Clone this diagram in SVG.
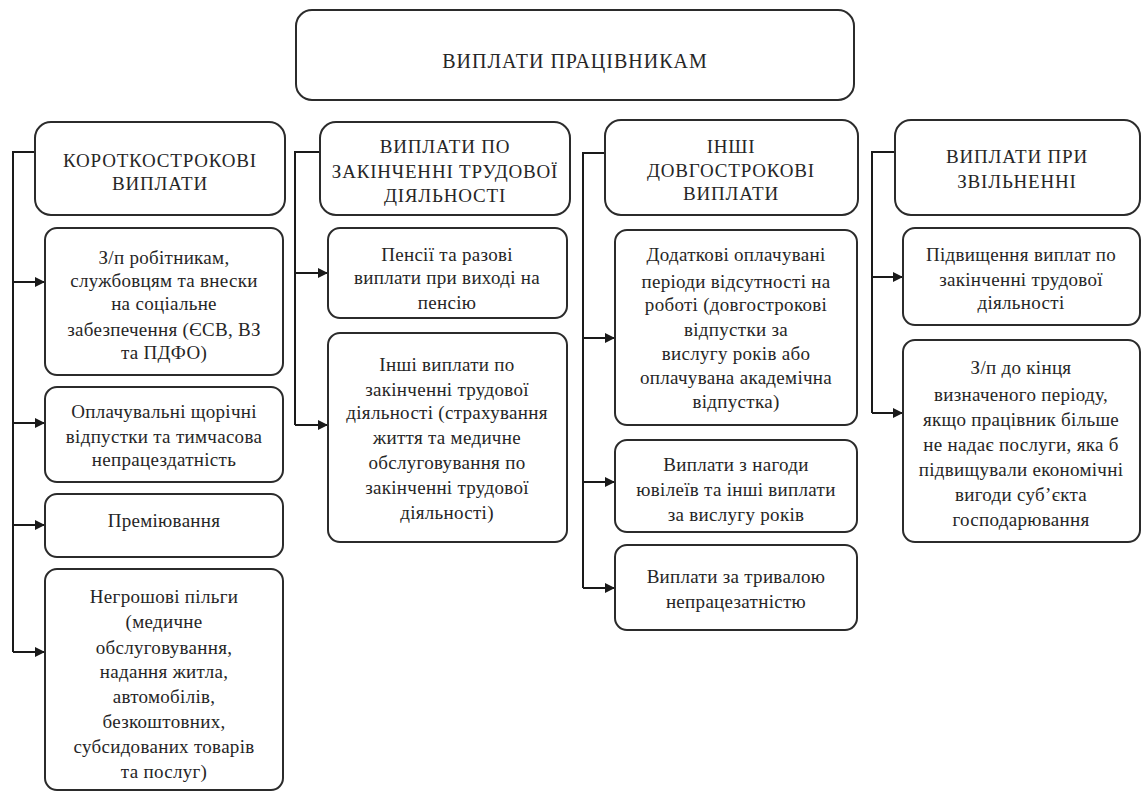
<svg xmlns="http://www.w3.org/2000/svg" width="1142" height="792" viewBox="0 0 1142 792">
<style>
  .box { fill: #ffffff; stroke: #2b2b2b; stroke-width: 2; }
  .ln { fill: none; stroke: #1a1a1a; stroke-width: 2; }
  .ar { fill: none; stroke: #1a1a1a; stroke-width: 2; marker-end: url(#arrow); }
  .h text { font-size: 19px; letter-spacing: 0.8px; }
  .c text { font-size: 19px; letter-spacing: 0.3px; }
</style>
<defs>
  <marker id="arrow" viewBox="0 0 10 10" refX="10" refY="5" markerWidth="5" markerHeight="5" orient="auto" markerUnits="strokeWidth">
    <path d="M0,0 L10,5 L0,10 z" fill="#1a1a1a"/>
  </marker>
</defs>
<rect width="1142" height="792" fill="#ffffff"/>

<g id="connectors">
  <path class="ln" d="M35,152 H13 V652"/>
  <path class="ar" d="M13,282 H45"/>
  <path class="ar" d="M13,423 H45"/>
  <path class="ar" d="M13,525 H45"/>
  <path class="ar" d="M13,652 H45"/>

  <path class="ln" d="M320,152 H295 V425"/>
  <path class="ar" d="M295,273 H328"/>
  <path class="ar" d="M295,425 H328"/>

  <path class="ln" d="M605,153 H583 V588"/>
  <path class="ar" d="M583,338 H615"/>
  <path class="ar" d="M583,482 H615"/>
  <path class="ar" d="M583,588 H615"/>

  <path class="ln" d="M895,152 H872 V413"/>
  <path class="ar" d="M872,277 H903"/>
  <path class="ar" d="M872,413 H903"/>
</g>

<g font-family="'Liberation Serif', 'Liberation Sans', sans-serif" font-size="19" fill="#262626" text-anchor="middle">
<g id="title">
  <rect class="box" x="296" y="10" width="558" height="90" rx="16"/>
  <text x="575" y="68" font-size="20" letter-spacing="1">ВИПЛАТИ ПРАЦІВНИКАМ</text>
</g>

<g id="h1" class="h">
  <rect class="box" x="35" y="122" width="250" height="93" rx="16"/>
  <text x="160" y="167">КОРОТКОСТРОКОВІ</text>
  <text x="160" y="190">ВИПЛАТИ</text>
</g>
<g id="c1n1" class="c">
  <rect class="box" x="45" y="228" width="238" height="147" rx="12"/>
  <text x="164" y="264">З/п робітникам,</text>
  <text x="164" y="287">службовцям та внески</text>
  <text x="164" y="310">на соціальне</text>
  <text x="164" y="336">забезпечення (ЄСВ, ВЗ</text>
  <text x="164" y="359">та ПДФО)</text>
</g>
<g id="c1n2" class="c">
  <rect class="box" x="45" y="387" width="238" height="95" rx="12"/>
  <text x="164" y="418">Оплачувальні щорічні</text>
  <text x="164" y="443">відпустки та тимчасова</text>
  <text x="164" y="466">непрацездатність</text>
</g>
<g id="c1n3" class="c">
  <rect class="box" x="45" y="494" width="238" height="63" rx="12"/>
  <text x="164" y="527">Преміювання</text>
</g>
<g id="c1n4" class="c">
  <rect class="box" x="45" y="569" width="238" height="221" rx="12"/>
  <text x="164" y="603">Негрошові пільги</text>
  <text x="164" y="628">(медичне</text>
  <text x="164" y="654">обслуговування,</text>
  <text x="164" y="678">надання житла,</text>
  <text x="164" y="703">автомобілів,</text>
  <text x="164" y="728">безкоштовних,</text>
  <text x="164" y="753">субсидованих товарів</text>
  <text x="164" y="778">та послуг)</text>
</g>

<g id="h2" class="h">
  <rect class="box" x="320" y="122" width="250" height="93" rx="16"/>
  <text x="445" y="153">ВИПЛАТИ ПО</text>
  <text x="445" y="178">ЗАКІНЧЕННІ ТРУДОВОЇ</text>
  <text x="445" y="202">ДІЯЛЬНОСТІ</text>
</g>
<g id="c2n1" class="c">
  <rect class="box" x="328" y="228" width="239" height="90" rx="12"/>
  <text x="447" y="261">Пенсії та разові</text>
  <text x="447" y="284">виплати при виході на</text>
  <text x="447" y="309">пенсію</text>
</g>
<g id="c2n2" class="c">
  <rect class="box" x="328" y="333" width="239" height="209" rx="12"/>
  <text x="447" y="371">Інші виплати по</text>
  <text x="447" y="396">закінченні трудової</text>
  <text x="447" y="419">діяльності (страхування</text>
  <text x="447" y="444">життя та медичне</text>
  <text x="447" y="469">обслуговування по</text>
  <text x="447" y="494">закінченні трудової</text>
  <text x="447" y="519">діяльності)</text>
</g>

<g id="h3" class="h">
  <rect class="box" x="605" y="120" width="253" height="95" rx="16"/>
  <text x="731" y="153">ІНШІ</text>
  <text x="731" y="177">ДОВГОСТРОКОВІ</text>
  <text x="731" y="200">ВИПЛАТИ</text>
</g>
<g id="c3n1" class="c">
  <rect class="box" x="615" y="230" width="242" height="195" rx="12"/>
  <text x="736" y="261">Додаткові оплачувані</text>
  <text x="736" y="288">періоди відсутності на</text>
  <text x="736" y="311">роботі (довгострокові</text>
  <text x="736" y="336">відпустки за</text>
  <text x="736" y="360">вислугу років або</text>
  <text x="736" y="384">оплачувана академічна</text>
  <text x="736" y="408">відпустка)</text>
</g>
<g id="c3n2" class="c">
  <rect class="box" x="615" y="440" width="242" height="92" rx="12"/>
  <text x="736" y="471">Виплати з нагоди</text>
  <text x="736" y="496">ювілеїв та інші виплати</text>
  <text x="736" y="521">за вислугу років</text>
</g>
<g id="c3n3" class="c">
  <rect class="box" x="615" y="545" width="242" height="85" rx="12"/>
  <text x="736" y="583">Виплати за тривалою</text>
  <text x="736" y="608">непрацезатністю</text>
</g>

<g id="h4" class="h">
  <rect class="box" x="895" y="120" width="245" height="95" rx="16"/>
  <text x="1017" y="163">ВИПЛАТИ ПРИ</text>
  <text x="1017" y="188">ЗВІЛЬНЕННІ</text>
</g>
<g id="c4n1" class="c">
  <rect class="box" x="903" y="228" width="237" height="97" rx="12"/>
  <text x="1021" y="261">Підвищення виплат по</text>
  <text x="1021" y="286">закінченні трудової</text>
  <text x="1021" y="309">діяльності</text>
</g>
<g id="c4n2" class="c">
  <rect class="box" x="903" y="340" width="237" height="202" rx="12"/>
  <text x="1021" y="374">З/п до кінця</text>
  <text x="1021" y="401">визначеного періоду,</text>
  <text x="1021" y="426">якщо працівник більше</text>
  <text x="1021" y="451">не надає послуги, яка б</text>
  <text x="1021" y="476">підвищували економічні</text>
  <text x="1021" y="501">вигоди суб’єкта</text>
  <text x="1021" y="526">господарювання</text>
</g>
</g>
</svg>
